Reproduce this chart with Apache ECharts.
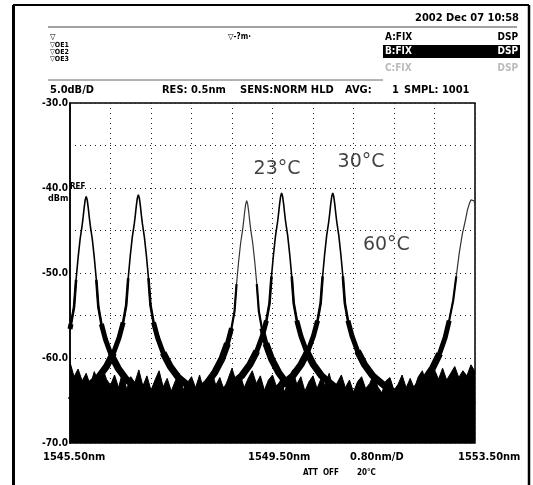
<!DOCTYPE html>
<html>
<head>
<meta charset="utf-8">
<script src="https://cdn.jsdelivr.net/npm/echarts@6/dist/echarts.min.js"></script>
<style>
html,body{margin:0;padding:0;background:#fff;}
#c{width:533px;height:485px;}
</style>
</head>
<body>
<div id="c"></div>
<script>
// ---------- data (wavelength nm, level dBm) ----------
const xMin = 1545.50, xMax = 1553.50;
const yMin = -70, yMax = -30;
const yTickLabels = ['-70.0', '-60.0', '-50.0', '-40.0', '-30.0'];
const xTickLabels = ['1545.50nm', '1549.50nm', '0.80nm/D', '1553.50nm'];

// 23°C trace (two resonance peaks)
const wl23 = [1545.50,1545.52,1545.58,1545.62,1545.66,1545.70,1545.74,1545.76,1545.78,1545.80,1545.82,1545.84,1545.86,1545.88,1545.90,1545.94,1545.98,1546.02,1546.06,1546.12,1546.20,1546.31,1546.45,1546.61,1546.81,1547.01,1547.50,1548.00,1548.49,1548.69,1548.89,1549.05,1549.19,1549.30,1549.38,1549.44,1549.48,1549.52,1549.56,1549.60,1549.62,1549.64,1549.66,1549.68,1549.70,1549.72,1549.74,1549.76,1549.80,1549.84,1549.88,1549.92,1549.98,1550.06,1550.17,1550.31,1550.47,1550.67,1550.87,1551.50,1552.50,1553.50];
const db23 = [-56.6,-56.0,-54.0,-50.8,-48.2,-46.0,-44.4,-43.4,-42.3,-41.4,-41.0,-41.4,-42.3,-43.4,-44.4,-46.0,-48.2,-50.8,-54.0,-56.0,-57.8,-59.6,-61.2,-62.5,-63.5,-64.5,-65.0,-65.4,-64.1,-63.1,-62.1,-60.8,-59.2,-57.4,-55.6,-53.6,-50.4,-47.8,-45.6,-44.0,-43.0,-41.9,-41.0,-40.6,-41.0,-41.9,-43.0,-44.0,-45.6,-47.8,-50.4,-53.6,-55.6,-57.4,-59.2,-60.8,-62.1,-63.1,-64.1,-65.0,-65.4,-65.0];

// 30°C trace
const wl30 = [1545.50,1545.66,1545.86,1546.06,1546.22,1546.36,1546.47,1546.55,1546.61,1546.65,1546.69,1546.73,1546.77,1546.79,1546.81,1546.83,1546.85,1546.87,1546.89,1546.91,1546.93,1546.97,1547.01,1547.05,1547.09,1547.15,1547.23,1547.34,1547.48,1547.64,1547.84,1548.04,1548.80,1549.50,1549.70,1549.90,1550.06,1550.20,1550.31,1550.39,1550.45,1550.49,1550.53,1550.57,1550.61,1550.63,1550.65,1550.67,1550.69,1550.71,1550.73,1550.75,1550.77,1550.81,1550.85,1550.89,1550.93,1550.99,1551.07,1551.18,1551.32,1551.48,1551.68,1551.88,1552.60,1553.50];
const db30 = [-65.0,-64.3,-63.3,-62.3,-61.0,-59.4,-57.6,-55.8,-53.8,-50.6,-48.0,-45.8,-44.2,-43.2,-42.1,-41.2,-40.8,-41.2,-42.1,-43.2,-44.2,-45.8,-48.0,-50.6,-53.8,-55.8,-57.6,-59.4,-61.0,-62.3,-63.3,-64.3,-65.2,-64.1,-63.1,-62.1,-60.8,-59.2,-57.4,-55.6,-53.6,-50.4,-47.8,-45.6,-44.0,-43.0,-41.9,-41.0,-40.6,-41.0,-41.9,-43.0,-44.0,-45.6,-47.8,-50.4,-53.6,-55.6,-57.4,-59.2,-60.8,-62.1,-63.1,-64.1,-65.2,-65.0];

// 60°C trace
const wl60 = [1545.50,1546.60,1547.80,1548.00,1548.20,1548.36,1548.50,1548.61,1548.69,1548.75,1548.79,1548.83,1548.87,1548.91,1548.93,1548.95,1548.97,1548.99,1549.01,1549.03,1549.05,1549.07,1549.11,1549.15,1549.19,1549.23,1549.29,1549.37,1549.48,1549.62,1549.78,1549.98,1550.18,1551.20,1552.10,1552.30,1552.50,1552.66,1552.80,1552.91,1552.99,1553.07,1553.13,1553.19,1553.25,1553.31,1553.35,1553.39,1553.42,1553.45,1553.48,1553.50];
const db60 = [-65.2,-65.4,-65.0,-64.0,-63.0,-61.7,-60.1,-58.3,-56.5,-54.5,-51.3,-48.7,-46.5,-44.9,-43.9,-42.8,-41.9,-41.5,-41.9,-42.8,-43.9,-44.9,-46.5,-48.7,-51.3,-54.5,-56.5,-58.3,-60.1,-61.7,-63.0,-64.0,-65.0,-65.4,-65.0,-63.8,-62.6,-61.2,-59.5,-57.6,-55.6,-53.2,-50.4,-47.6,-45.4,-43.8,-42.6,-41.8,-41.4,-41.3,-41.5,-41.9];

// noise floor (upper envelope of the black noise band)
const noiseWl = [1545.50,1545.58,1545.66,1545.74,1545.82,1545.90,1545.98,1546.06,1546.14,1546.22,
1546.30,1546.38,1546.46,1546.54,1546.62,1546.70,1546.78,1546.86,1546.94,1547.02,
1547.10,1547.18,1547.26,1547.34,1547.42,1547.50,1547.58,1547.66,1547.74,1547.82,
1547.90,1547.98,1548.06,1548.14,1548.22,1548.30,1548.38,1548.46,1548.54,1548.62,
1548.70,1548.78,1548.86,1548.94,1549.02,1549.10,1549.18,1549.26,1549.34,1549.42,
1549.50,1549.58,1549.66,1549.74,1549.82,1549.90,1549.98,1550.06,1550.14,1550.22,
1550.30,1550.38,1550.46,1550.54,1550.62,1550.70,1550.78,1550.86,1550.94,1551.02,
1551.10,1551.18,1551.26,1551.34,1551.42,1551.50,1551.58,1551.66,1551.74,1551.82,
1551.90,1551.98,1552.06,1552.14,1552.22,1552.30,1552.38,1552.46,1552.54,1552.62,
1552.70,1552.78,1552.86,1552.94,1553.02,1553.10,1553.18,1553.26,1553.34,1553.42,
1553.50];
const noiseDb = [-60.5,-62.2,-61.3,-62.7,-61.8,-63.2,-61.6,-62.9,-61.1,-62.5,
-63.2,-62.0,-63.5,-61.6,-63.7,-62.2,-62.9,-61.4,-63.3,-62.1,
-63.8,-62.6,-61.5,-63.4,-62.4,-63.9,-62.7,-61.8,-63.7,-62.9,
-62.2,-63.5,-62.0,-63.8,-62.6,-61.6,-63.2,-62.3,-63.7,-62.5,
-61.2,-62.8,-61.9,-63.5,-62.4,-61.5,-63.0,-62.1,-63.8,-62.6,
-62.0,-63.4,-62.6,-64.0,-62.5,-61.4,-63.1,-62.2,-63.9,-62.8,
-62.1,-63.6,-62.4,-63.2,-61.8,-63.7,-62.9,-62.0,-63.5,-62.6,
-64.0,-62.8,-62.2,-63.6,-63.0,-61.9,-63.4,-64.1,-62.7,-62.3,
-63.8,-63.1,-62.0,-63.5,-62.4,-63.6,-62.2,-61.5,-63.0,-62.1,
-61.4,-62.5,-61.2,-62.6,-61.8,-61.0,-62.3,-61.5,-62.1,-60.8,
-61.6];

const tempLabels = ['23°C', '30°C', '60°C'];
const tempLabelPos = [[1549.59, -37.8], [1551.25, -37.0], [1551.75, -46.7]];

// ---------- chart ----------
const zip = (a, b) => a.map((v, i) => [v, b[i]]);
const below = (a, b, lim) => a.map((v, i) => [v, b[i] < lim ? b[i] : null]);
const F = '"Liberation Sans Narrow","DejaVu Sans Condensed",sans-serif';
const chart = echarts.init(document.getElementById('c'), null, {renderer: 'canvas'});

function txt(text, x, y, size, opts) {
  opts = opts || {};
  return {type: 'text', x: x, y: y, z: 100, silent: true,
    style: {text: text, fill: opts.fill || '#000', font: (opts.weight || 'bold') + ' ' + size + 'px ' + (opts.family || F),
      textAlign: opts.align || 'left', textVerticalAlign: 'middle', verticalAlign: 'middle'}};
}
function line(x1, y1, x2, y2, w, c, dash) {
  return {type: 'line', z: 100, silent: true, shape: {x1: x1, y1: y1, x2: x2, y2: y2},
    style: {stroke: c || '#000', lineWidth: w || 1, lineDash: dash || null}};
}

const traceStyle = (name, wl, db, w, col) => ({
  type: 'line', name: name, xAxisIndex: 0, data: zip(wl, db), symbol: 'none',
  lineStyle: {color: col || '#000', width: w}, z: 4, animation: false
});
const tailStyle = (wl, db, lim, w) => ({
  type: 'line', xAxisIndex: 0, data: below(wl, db, lim), symbol: 'none',
  lineStyle: {color: '#000', width: w}, connectNulls: false, z: 4
});

const graphics = [
  // outer frame
  line(13, 5, 529, 5, 2), line(13.5, 5, 13.5, 485, 3), line(529, 5, 529, 485, 2.5),
  // header
  txt('2002 Dec 07 10:58', 519, 18, 11, {align: 'right'}),
  line(48, 27, 517, 27, 1, '#444'),
  txt('▽', 50, 37, 8), txt('▽OE1', 50, 45, 7), txt('▽OE2', 50, 52, 7), txt('▽OE3', 50, 59, 7),
  txt('▽-?m·', 228, 37, 8),
  txt('A:FIX', 385, 37, 10), txt('DSP', 518, 37, 10, {align: 'right'}),
  {type: 'rect', z: 99, silent: true, shape: {x: 383, y: 45, width: 137, height: 13}, style: {fill: '#000'}},
  txt('B:FIX', 385, 51.5, 10, {fill: '#fff'}), txt('DSP', 518, 51.5, 10, {align: 'right', fill: '#fff'}),
  txt('C:FIX', 385, 68, 10, {fill: '#bbb'}), txt('DSP', 518, 68, 10, {align: 'right', fill: '#bbb'}),
  line(48, 80, 383, 80, 1, '#666'),
  txt('5.0dB/D', 50, 90, 11), txt('RES: 0.5nm', 162, 90, 11), txt('SENS:NORM HLD', 240, 90, 11),
  txt('AVG:', 345, 90, 11), txt('1', 392, 90, 11), txt('SMPL: 1001', 404, 90, 11),
  // y-axis extras
  txt('REF', 70, 187, 8), txt('dBm', 48, 199, 9),
  // x labels
  txt(xTickLabels[0], 43, 457, 11), txt(xTickLabels[1], 248, 457, 11),
  txt(xTickLabels[2], 350, 457, 11), txt(xTickLabels[3], 458, 457, 11),
  txt('ATT  OFF', 303, 473, 8), txt('20°C', 357, 473, 8)
];

const option = {
  animation: false,
  backgroundColor: '#fff',
  grid: {left: 70, top: 103, width: 405, height: 340, show: true, borderColor: '#000', borderWidth: 1.5},
  xAxis: [
    {type: 'value', min: xMin, max: xMax, show: false},
    {type: 'value', min: 0, max: 10, interval: 1, position: 'bottom',
      axisLine: {show: false}, axisTick: {show: false}, axisLabel: {show: false},
      splitLine: {show: true, lineStyle: {color: '#222', width: 1, type: [1, 4]}}}
  ],
  yAxis: {type: 'value', min: yMin, max: yMax, interval: 5,
    axisLine: {show: true, lineStyle: {color: '#000', width: 1.5}}, axisTick: {show: false},
    axisLabel: {color: '#000', fontSize: 10, fontWeight: 'bold', fontFamily: F, margin: 2,
      formatter: v => { const i = yTickLabels.indexOf(v.toFixed(1)); return i >= 0 ? yTickLabels[i] : ''; }},
    splitLine: {show: true, lineStyle: {color: '#222', width: 1, type: [1, 4]}}},
  series: [
    {type: 'line', name: 'noise', xAxisIndex: 0, data: zip(noiseWl, noiseDb), symbol: 'none',
      lineStyle: {color: '#000', width: 1}, areaStyle: {color: '#000', opacity: 1, origin: 'start'}, z: 3},
    traceStyle(tempLabels[0], wl23, db23, 1.6),
    traceStyle(tempLabels[1], wl30, db30, 1.6),
    traceStyle(tempLabels[2], wl60, db60, 1.2, '#333'),
    tailStyle(wl23, db23, -50, 2.6), tailStyle(wl30, db30, -50, 2.6), tailStyle(wl60, db60, -50, 2.2),
    tailStyle(wl23, db23, -55, 5), tailStyle(wl30, db30, -55, 5), tailStyle(wl60, db60, -55, 5),
    tailStyle(wl23, db23, -58, 7), tailStyle(wl30, db30, -58, 7), tailStyle(wl60, db60, -58, 7),
    {type: 'scatter', xAxisIndex: 0, symbolSize: 0, z: 6, silent: true,
      data: tempLabels.map((t, i) => ({value: tempLabelPos[i], name: t})),
      label: {show: true, formatter: p => p.name, color: '#111', fontSize: 19, fontFamily: '"DejaVu Sans",sans-serif', position: 'inside'}}
  ],
  graphic: graphics
};
chart.setOption(option);
</script>
</body>
</html>
